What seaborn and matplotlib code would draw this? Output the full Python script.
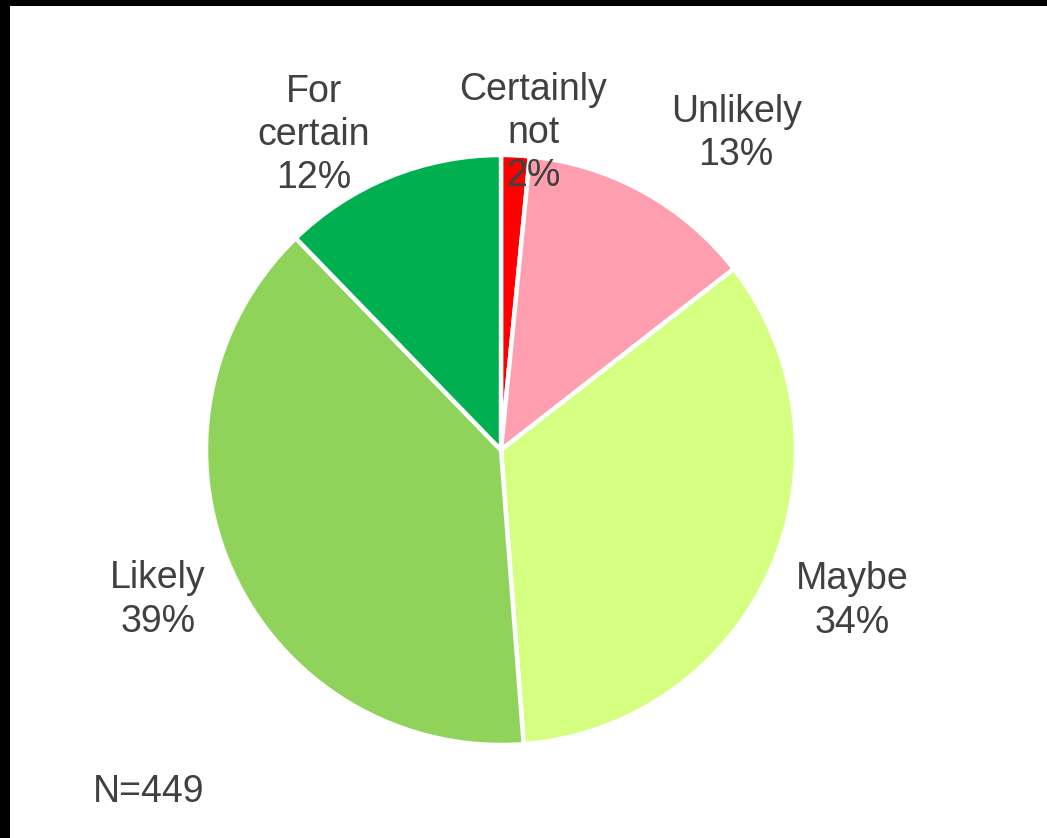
import matplotlib
matplotlib.use("Agg")
import matplotlib.pyplot as plt
from matplotlib.patches import Rectangle
import seaborn as sns

categories = ["Certainly\nnot", "Unlikely", "Maybe", "Likely", "For\ncertain"]
counts = [7, 58, 154, 175, 55]
colors = ["#FF0000", "#FF9EAF", "#D4FF80", "#8FD35B", "#00B050"]
n_total = 449

sns.set_theme(style="white")
plt.rcParams["font.family"] = ["Liberation Sans", "DejaVu Sans"]

W, H = 1047, 838
fig = plt.figure(figsize=(W / 100, H / 100), dpi=100)
fig.patch.set_facecolor("white")

cx, cy, r = 501, 450, 295
ax = fig.add_axes([(cx - r) / W, (H - cy - r) / H, 2 * r / W, 2 * r / H])
wedges, _ = ax.pie(counts, colors=colors, startangle=90, counterclock=False,
                   wedgeprops=dict(edgecolor="white", linewidth=3.2))
ax.set_xlim(-1, 1)
ax.set_ylim(-1, 1)
ax.set_aspect("auto")
ax.axis("off")

label_pos = [(0.11, 1.075), (0.797, 1.073), (1.19, -0.512), (-1.163, -0.508), (-0.634, 1.068)]
for cat, c, (x, y) in zip(categories, counts, label_pos):
    pct = round(100 * c / sum(counts))
    ax.text(x, y, f"{cat}\n{pct}%", ha="center", va="center", fontsize=27,
            color="#404040", linespacing=1.26, clip_on=False)

fig.text(93 / W, 1 - 792 / H, f"N={n_total}", ha="left", va="center",
         fontsize=27, color="#404040")

# black frame edges (top and left)
fig.patches.append(Rectangle((0, 1 - 6 / H), 1, 6 / H, transform=fig.transFigure,
                             facecolor="black", edgecolor="none", zorder=10))
fig.patches.append(Rectangle((0, 0), 10 / W, 1, transform=fig.transFigure,
                             facecolor="black", edgecolor="none", zorder=10))

fig.savefig("out.png", dpi=100, facecolor="white")
